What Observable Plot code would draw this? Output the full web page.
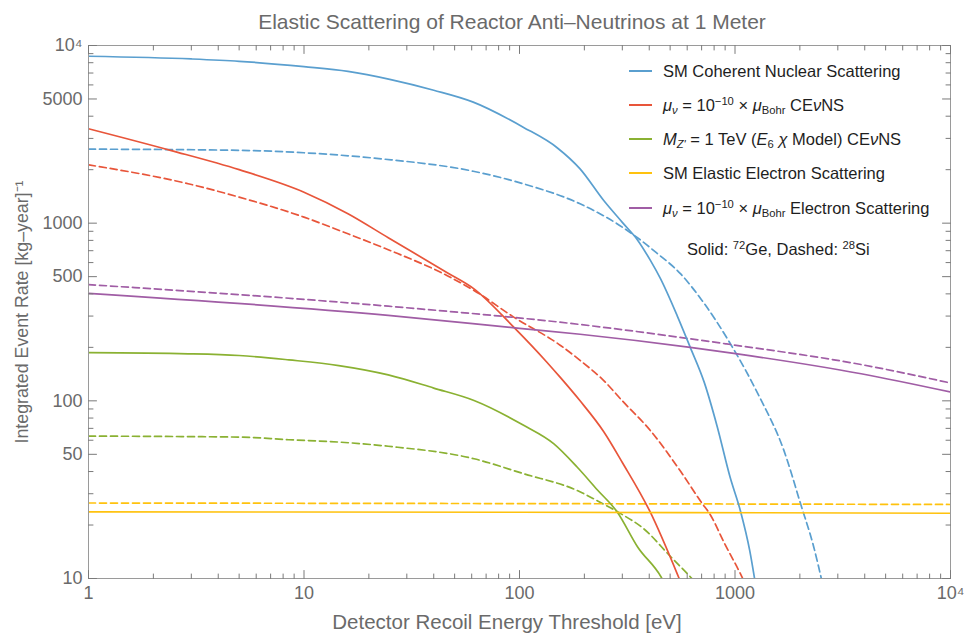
<!DOCTYPE html>
<html>
<head>
<meta charset="utf-8">
<script src="https://cdn.jsdelivr.net/npm/d3@7"></script>
<script src="https://cdn.jsdelivr.net/npm/@observablehq/plot@0.6"></script>
<style>
  html, body { margin: 0; padding: 0; background: #fff; }
  #wrap { position: relative; width: 964px; height: 633px; overflow: hidden; font-family: 'Liberation Sans', Arial, sans-serif; }
  #chart { position: absolute; left: 0; top: 0; }
  .sw { position: absolute; width: 23px; height: 2px; }
  .lt { position: absolute; white-space: nowrap; font-size: 16.5px; color: #1e1e1e; transform: translateY(-50%); line-height: 1; }
  .lt sub, .lt sup { font-size: 0.68em; line-height: 0; }
  .lt sub { vertical-align: -0.25em; }
  .lt sup { vertical-align: 0.55em; }
</style>
</head>
<body>
<div id="wrap"><div id="chart"></div></div>
<script>
// ---------- data ----------
const seriesNames = [
  "SM Coherent Nuclear Scattering",
  "mu CEvNS",
  "Zprime CEvNS",
  "SM Elastic Electron Scattering",
  "mu Electron Scattering"
];
const seriesColors = ["#5a9fcf", "#e8553a", "#8ab132", "#ffc20e", "#a05da5"];

// Solid: 72Ge
const cohGeE = [1,3,5,10,16,25,40,61,104,150,191,246,300,354,405,451,540,620,720,826,950,1060,1170,1250];
const cohGeR = [8700,8400,8150,7600,7150,6450,5600,4800,3470,2650,2020,1340,1010,800,617,487,300,200,127,72,37,24,14.4,9];
const magGeE = [1,2.4,5,10,16,24.6,46,61.5,94,134,155,191,246,300,404,547,575];
const magGeR = [3400,2570,2000,1494,1130,828,528,427,260,165,135,100,67,45,23.7,10.2,8.8];
const zpGeE = [1,2.9,5,8.5,14.5,24.6,40,61.5,104.5,144,185,230,284,354,454,480];
const zpGeR = [186.6,184,180,170,158,140,118,100.5,72.8,57.4,42.4,31.5,23.7,15,10.2,9];
const elGeE = [1,100,10000];
const elGeR = [23.7,23.6,23.3];
const muElGeE = [1,24.6,100,191,620,987,3850,10000];
const muElGeR = [403,303,256,237,200,185,142,112];

// Dashed: 28Si
const cohSiE = [1,5,10,23,61,104,191,300,354,433,558,700,953,1300,1686,2014,2321,2540];
const cohSiR = [2610,2570,2490,2300,1960,1667,1285,950,825,680,520,370,209,105,52.6,26.4,15,9.5];
const magSiE = [1,2.9,5,10,16,24.6,46,61.5,94,155,191,246,300,405,560,705,757,900,1077,1120];
const magSiR = [2130,1667,1402,1081,871,709,508,418,296,205,169,130,100,68,40,26.4,23.5,15.5,10.2,9.2];
const zpSiE = [1,5,8.5,14.5,24.6,61.5,104.5,185,240,289,378,502,621,660];
const zpSiR = [63.3,62.5,60.4,58.6,55.5,47.2,38.9,31.3,26.6,23.5,19,13.3,10.2,9.4];
const elSiE = [1,100,10000];
const elSiR = [26.6,26.4,26.1];
const muElSiE = [1,24.6,191,915,3850,10000];
const muElSiR = [451,341,269,209,160,126];

// ticks
const xMajor = [1,10,100,1000,10000];
const xTickLabels = ["1","10","100","1000","10\u2074"];
const xMinor = [2,3,4,5,6,7,8,9,20,30,40,50,60,70,80,90,200,300,400,500,600,700,800,900,2000,3000,4000,5000,6000,7000,8000,9000];
const yMajor = [10,50,100,500,1000,5000,10000];
const yTickLabels = ["10","50","100","500","1000","5000","10\u2074"];
const yMinor = [20,30,40,60,70,80,90,200,300,400,600,700,800,900,2000,3000,4000,6000,7000,8000,9000];

const titleText = "Elastic Scattering of Reactor Anti\u2013Neutrinos at 1 Meter";
const xLabel = "Detector Recoil Energy Threshold [eV]";
const yLabel = "Integrated Event Rate [kg\u2013year]\u207B\u00B9";

const legendLabels = [
  "SM Coherent Nuclear Scattering",
  "<i>\u03BC</i><sub><i>\u03BD</i></sub> = 10<sup>\u221210</sup> \u00D7 <i>\u03BC</i><sub>Bohr</sub> CE<i>\u03BD</i>NS",
  "<i>M</i><sub><i>Z'</i></sub> = 1 TeV (<i>E</i><sub>6</sub> <i>\u03C7</i> Model) CE<i>\u03BD</i>NS",
  "SM Elastic Electron Scattering",
  "<i>\u03BC</i><sub><i>\u03BD</i></sub> = 10<sup>\u221210</sup> \u00D7 <i>\u03BC</i><sub>Bohr</sub> Electron Scattering"
];
const isotopeNote = "Solid: <sup>72</sup>Ge, Dashed: <sup>28</sup>Si";

// ---------- build tables ----------
function rows(name, E, R) { return E.map((e, i) => ({s: name, e, r: R[i]})); }
const geRows = [
  ...rows(seriesNames[0], cohGeE, cohGeR),
  ...rows(seriesNames[1], magGeE, magGeR),
  ...rows(seriesNames[2], zpGeE, zpGeR),
  ...rows(seriesNames[3], elGeE, elGeR),
  ...rows(seriesNames[4], muElGeE, muElGeR)
];
const siRows = [
  ...rows(seriesNames[0], cohSiE, cohSiR),
  ...rows(seriesNames[1], magSiE, magSiR),
  ...rows(seriesNames[2], zpSiE, zpSiR),
  ...rows(seriesNames[3], elSiE, elSiR),
  ...rows(seriesNames[4], muElSiE, muElSiR)
];

const tickShape = {draw(ctx, l) { ctx.moveTo(0, 0); ctx.lineTo(0, -l); }};
const tickColor = "#7a7a7a";
const labelColor = "#6a6a6a";
function ticks(values, chan, anchor, rotate, len) {
  const o = {frameAnchor: anchor, length: len, rotate, anchor: "start", shape: tickShape, stroke: tickColor, strokeWidth: 1};
  o[chan] = d => d;
  return Plot.vector(values, o);
}

const plot = Plot.plot({
  width: 964,
  height: 633,
  marginLeft: 88,
  marginRight: 14,
  marginTop: 45,
  marginBottom: 55,
  x: {type: "log", domain: [1, 10000], axis: null},
  y: {type: "log", domain: [10, 10000], axis: null},
  color: {domain: seriesNames, range: seriesColors},
  style: {fontFamily: "'Liberation Sans', Arial, sans-serif", background: "white", overflow: "visible"},
  marks: [
    Plot.line(siRows, {x: "e", y: "r", z: "s", stroke: "s", strokeWidth: 1.7, strokeDasharray: "7,4", curve: "monotone-x", clip: true}),
    Plot.line(geRows, {x: "e", y: "r", z: "s", stroke: "s", strokeWidth: 1.7, curve: "monotone-x", clip: true}),
    Plot.frame({stroke: "#9a9a9a"}),
    ticks(xMajor, "x", "bottom", 0, 8),
    ticks(xMinor, "x", "bottom", 0, 4.5),
    ticks(xMajor, "x", "top", 180, 8),
    ticks(xMinor, "x", "top", 180, 4.5),
    ticks(yMajor, "y", "left", 90, 8),
    ticks(yMinor, "y", "left", 90, 4.5),
    ticks(yMajor, "y", "right", -90, 8),
    ticks(yMinor, "y", "right", -90, 4.5),
    Plot.text(xMajor, {x: d => d, text: (d, i) => xTickLabels[i], frameAnchor: "bottom", textAnchor: "middle", lineAnchor: "top", dy: 8, fontSize: 18, fill: labelColor}),
    Plot.text(yMajor, {y: d => d, text: (d, i) => yTickLabels[i], frameAnchor: "left", textAnchor: "end", lineAnchor: "middle", dx: -6, fontSize: 18, fill: labelColor}),
    Plot.text([titleText], {frameAnchor: "top", textAnchor: "middle", lineAnchor: "middle", dx: -7.5, dy: -23.5, fontSize: 21, fill: labelColor}),
    Plot.text([xLabel], {frameAnchor: "bottom", textAnchor: "middle", lineAnchor: "middle", dx: -12.5, dy: 44, fontSize: 20.5, fill: labelColor}),
    Plot.text([yLabel], {frameAnchor: "left", textAnchor: "middle", lineAnchor: "middle", dx: -66, rotate: -90, fontSize: 17.8, fill: labelColor})
  ]
});
document.getElementById("chart").appendChild(plot);

// legend (rich text)
const wrap = document.getElementById("wrap");
const legendY = [70.7, 105, 139.3, 173.3, 208.3];
legendLabels.forEach((html, i) => {
  const sw = document.createElement("div");
  sw.className = "sw";
  sw.style.left = "629px";
  sw.style.top = (legendY[i] - 1) + "px";
  sw.style.background = seriesColors[i];
  wrap.appendChild(sw);
  const t = document.createElement("div");
  t.className = "lt";
  t.style.left = "663px";
  t.style.top = legendY[i] + "px";
  t.innerHTML = html;
  wrap.appendChild(t);
});
const note = document.createElement("div");
note.className = "lt";
note.style.left = "687px";
note.style.top = "249px";
note.innerHTML = isotopeNote;
wrap.appendChild(note);
</script>
</body>
</html>
